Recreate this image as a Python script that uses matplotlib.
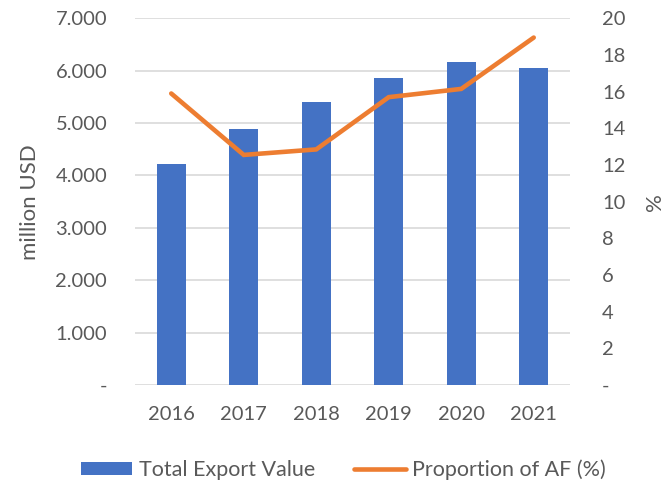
import numpy as np
import matplotlib.pyplot as plt
from matplotlib.ticker import FuncFormatter

years = ["2016", "2017", "2018", "2019", "2020", "2021"]
export_value = [4220, 4880, 5410, 5860, 6165, 6055]
af_share = [15.9, 12.55, 12.85, 15.7, 16.15, 18.95]

text_color = "#595959"
fs = 14.5
plt.rcParams['font.family'] = ['Lato', 'DejaVu Sans']
plt.rcParams['font.size'] = fs


def thousands(v, pos):
    if v == 0:
        return "-"
    return f"{v:,.0f}".replace(",", ".")


def plain(v, pos):
    if v == 0:
        return "-"
    return f"{v:.0f}"


fig = plt.figure(figsize=(6.64, 4.82), dpi=100)
ax = fig.add_axes([0.2033, 0.2012, 0.6551, 0.7608])
ax2 = ax.twinx()

x = np.arange(len(years))
bars = ax.bar(x, export_value, width=0.4, color="#4472C4", zorder=2,
              label="Total Export Value")
line, = ax2.plot(x, af_share, color="#ED7D31", lw=3.3, solid_capstyle="round",
                 solid_joinstyle="miter", label="Proportion of AF (%)")

ax.set_xlim(-0.5, len(years) - 0.5)
ax.set_ylim(0, 7000)
ax.set_yticks(np.arange(0, 7001, 1000))
ax.yaxis.set_major_formatter(FuncFormatter(thousands))
ax2.set_ylim(0, 20)
ax2.set_yticks(np.arange(0, 21, 2))
ax2.yaxis.set_major_formatter(FuncFormatter(plain))

ax.set_xticks(x)
ax.set_xticklabels(years)
ax.grid(axis="y", color="#d9d9d9", lw=1.2, zorder=0)
ax.set_axisbelow(True)

for a in (ax, ax2):
    for s in a.spines.values():
        s.set_visible(False)
    a.tick_params(length=0, colors=text_color, labelsize=fs)
ax.tick_params(axis="y", pad=20)
ax2.tick_params(axis="y", pad=23)
ax.tick_params(axis="x", pad=15)

ax.set_ylabel("million USD", color=text_color, fontsize=16, labelpad=11)
ax2.set_ylabel("%", color=text_color, fontsize=16, labelpad=14)

fig.legend([bars, line], ["Total Export Value", "Proportion of AF (%)"],
           loc="center", bbox_to_anchor=(0.517, 0.025), ncol=2,
           frameon=False, fontsize=15.5, labelcolor=text_color,
           handlelength=2.4, handleheight=0.6, handletextpad=0.3,
           columnspacing=1.8)

fig.savefig("out.png", dpi=100)
